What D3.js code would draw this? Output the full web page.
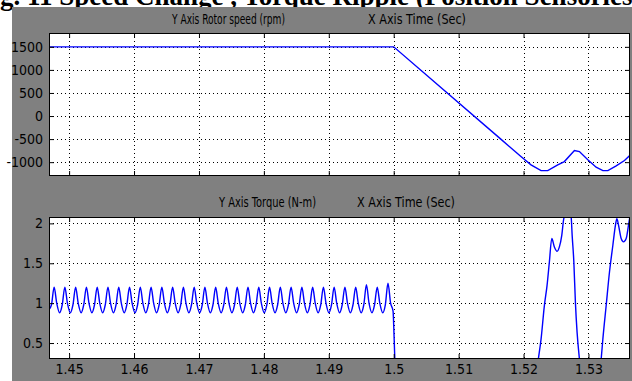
<!DOCTYPE html>
<html>
<head>
<meta charset="utf-8">
<script src="https://cdn.jsdelivr.net/npm/d3@7"></script>
<style>
  html, body { margin: 0; padding: 0; background: #fff; }
  svg { display: block; }
  .tick text { font-family: "Liberation Sans Narrow", "DejaVu Sans Condensed", sans-serif; font-size: 14px; fill: #000; }
  .ptitle { font-family: "Liberation Sans Narrow", "DejaVu Sans Condensed", sans-serif; font-size: 14px; fill: #000; }
</style>
</head>
<body>
<svg id="chart" width="632" height="381"></svg>
<script>
// tick values
const timeTicks = [1.45, 1.46, 1.47, 1.48, 1.49, 1.5, 1.51, 1.52, 1.53];
const speedTicks = [-1000, -500, 0, 500, 1000, 1500];
const torqueTicks = [0.5, 1, 1.5, 2];

// rotor speed (rpm) vs time (s)
const speedTime = [1.4469, 1.5, 1.5165, 1.5196, 1.52115, 1.5227, 1.52373, 1.52527, 1.52629,
    1.52784, 1.52861, 1.5299, 1.53118, 1.53222, 1.53299, 1.53427, 1.53555, 1.53648];
const speedRpm = [1500, 1500, -500, -878, -1059, -1183, -1183, -1059, -987,
    -748, -770, -950, -1109, -1183, -1183, -1080, -965, -841];

// torque (N-m) vs time (s), one ripple cycle per line
const torqueTime = [
    1.4469, 1.44728,
    1.44769, 1.44809, 1.44854, 1.44894,   // 1
    1.44934, 1.44974, 1.45019, 1.45059,
    1.45100, 1.45140, 1.45185, 1.45225,
    1.45266, 1.45306, 1.45351, 1.45391,
    1.45432, 1.45472, 1.45517, 1.45557,   // 5
    1.45598, 1.45638, 1.45683, 1.45723,
    1.45764, 1.45804, 1.45849, 1.45889,
    1.45930, 1.45970, 1.46015, 1.46055,
    1.46096, 1.46136, 1.46181, 1.46221,
    1.46262, 1.46302, 1.46347, 1.46387,   // 10
    1.46428, 1.46468, 1.46513, 1.46553,
    1.46594, 1.46634, 1.46679, 1.46719,
    1.46760, 1.46800, 1.46845, 1.46885,
    1.46926, 1.46966, 1.47011, 1.47051,
    1.47091, 1.47131, 1.47176, 1.47216,   // 15
    1.47257, 1.47297, 1.47342, 1.47382,
    1.47423, 1.47463, 1.47508, 1.47548,
    1.47589, 1.47629, 1.47674, 1.47714,
    1.47755, 1.47795, 1.47840, 1.47880,
    1.47921, 1.47961, 1.48006, 1.48046,   // 20
    1.48087, 1.48127, 1.48172, 1.48212,
    1.48253, 1.48293, 1.48338, 1.48378,
    1.48419, 1.48459, 1.48504, 1.48544,
    1.48585, 1.48625, 1.48670, 1.48710,
    1.48751, 1.48791, 1.48836, 1.48876,   // 25
    1.48917, 1.48957, 1.49002, 1.49042,
    1.49082, 1.49122, 1.49167, 1.49207,
    1.49248, 1.49288, 1.49333, 1.49373,
    1.49414, 1.49454, 1.49499, 1.49539,
    1.49580, 1.49620, 1.49665, 1.49705,   // 30
    1.49746, 1.49786, 1.49831, 1.49871,
    1.49912, 1.49952, 1.49990, 1.50005, 1.50025, 1.5005,
    1.5100, 1.5205,
    1.52228, 1.52270, 1.52321, 1.52362, 1.52398, 1.52435, 1.52475, 1.52517,
    1.52552, 1.52589, 1.52620, 1.52629, 1.5266, 1.52733, 1.52749, 1.52775,
    1.52799, 1.52825, 1.52861, 1.5295, 1.5310,
    1.53196, 1.53222, 1.53273, 1.53324, 1.53376, 1.53416, 1.53438, 1.53463,
    1.53504, 1.53540, 1.53581, 1.53617, 1.53638, 1.5366
];
const torqueNm = [
    0.92, 0.98,
    1.2, 1.0, 0.88, 0.98,   // 1
    1.2, 1.0, 0.88, 0.98,
    1.2, 1.0, 0.88, 0.98,
    1.2, 1.0, 0.88, 0.98,
    1.2, 1.0, 0.88, 0.98,   // 5
    1.2, 1.0, 0.88, 0.98,
    1.2, 1.0, 0.88, 0.98,
    1.2, 1.0, 0.88, 0.98,
    1.2, 1.0, 0.88, 0.98,
    1.2, 1.0, 0.88, 0.98,   // 10
    1.2, 1.0, 0.88, 0.98,
    1.2, 1.0, 0.88, 0.98,
    1.2, 1.0, 0.88, 0.98,
    1.2, 1.0, 0.88, 0.98,
    1.2, 1.0, 0.88, 0.98,   // 15
    1.2, 1.0, 0.88, 0.98,
    1.2, 1.0, 0.88, 0.98,
    1.2, 1.0, 0.88, 0.98,
    1.2, 1.0, 0.88, 0.98,
    1.2, 1.0, 0.88, 0.98,   // 20
    1.2, 1.0, 0.88, 0.98,
    1.2, 1.0, 0.88, 0.98,
    1.2, 1.0, 0.88, 0.98,
    1.2, 1.0, 0.88, 0.98,
    1.2, 1.0, 0.88, 0.98,   // 25
    1.2, 1.0, 0.88, 0.98,
    1.2, 1.0, 0.88, 0.98,
    1.2, 1.0, 0.88, 0.98,
    1.2, 1.0, 0.88, 0.98,
    1.23, 1.0, 0.88, 0.98,  // 30
    1.2, 1.0, 0.88, 0.98,
    1.25, 1.0, 0.9, 0.6, 0.1, -0.6,
    -0.8, -0.8,
    0.3, 0.55, 0.97, 1.22, 1.516, 1.81, 1.705, 1.65,
    1.705, 1.85, 2.06, 2.083, 2.25, 2.083, 1.85, 1.516,
    1.01, 0.634, 0.3, -0.3, -0.3,
    0.3, 0.55, 0.97, 1.39, 1.726, 1.978, 2.06, 1.978,
    1.81, 1.768, 1.81, 1.978, 2.083, 2.2
];

const width = 632;
const height = 381;
const timeDomain = [1.4469, 1.5364];

const svg = d3.select("#chart")
    .attr("width", width)
    .attr("height", height);

svg.append("text")
    .attr("x", -24)
    .attr("y", 5)
    .attr("font-family", "Liberation Serif, Times New Roman, serif")
    .attr("font-weight", "bold")
    .attr("font-size", 27)
    .text("Fig. 11 Speed Change , Torque Ripple (Position Sensorless Control)");

// figure background
svg.append("rect")
    .attr("x", 12)
    .attr("y", 7)
    .attr("width", width - 12)
    .attr("height", height - 7)
    .attr("fill", "#808080");

const drawPanel = (box, yDomain, yTicks, xs, ys, showTimeLabels, id, curve) => {
    const x = d3.scaleLinear().domain(timeDomain).range([box.left, box.right]);
    const y = d3.scaleLinear().domain(yDomain).range([box.bottom, box.top]);

    svg.append("rect")
        .attr("x", box.left)
        .attr("y", box.top)
        .attr("width", box.right - box.left)
        .attr("height", box.bottom - box.top)
        .attr("fill", "#fff");

    // dotted grid
    const grid = svg.append("g")
        .attr("stroke", "#000")
        .attr("stroke-width", 1)
        .attr("stroke-dasharray", "1,3");

    grid.selectAll(".gx")
        .data(timeTicks)
        .enter()
        .append("line")
        .attr("x1", (d) => Math.round(x(d)) + 0.5)
        .attr("x2", (d) => Math.round(x(d)) + 0.5)
        .attr("y1", box.top)
        .attr("y2", box.bottom);

    grid.selectAll(".gy")
        .data(yTicks)
        .enter()
        .append("line")
        .attr("y1", (d) => Math.round(y(d)) + 0.5)
        .attr("y2", (d) => Math.round(y(d)) + 0.5)
        .attr("x1", box.left)
        .attr("x2", box.right);

    svg.append("clipPath")
        .attr("id", id)
        .append("rect")
        .attr("x", box.left)
        .attr("y", box.top)
        .attr("width", box.right - box.left)
        .attr("height", box.bottom - box.top);

    const line = d3.line()
        .curve(curve)
        .x((d, i) => x(xs[i]))
        .y((d, i) => y(ys[i]));

    svg.append("path")
        .datum(xs)
        .attr("clip-path", `url(#${id})`)
        .attr("fill", "none")
        .attr("stroke", "#0000ff")
        .attr("stroke-width", 1.4)
        .attr("d", line);

    // inward ticks on all four sides
    const left = svg.append("g")
        .attr("transform", `translate(${box.left},0)`)
        .call(d3.axisLeft(y).tickValues(yTicks).tickSizeInner(-5).tickSizeOuter(0)
            .tickPadding(6).tickFormat((d) => String(d)));

    const right = svg.append("g")
        .attr("transform", `translate(${box.right},0)`)
        .call(d3.axisRight(y).tickValues(yTicks).tickSizeInner(-5).tickSizeOuter(0).tickFormat(""));

    const bottom = svg.append("g")
        .attr("transform", `translate(0,${box.bottom})`)
        .call(d3.axisBottom(x).tickValues(timeTicks).tickSizeInner(-5).tickSizeOuter(0)
            .tickPadding(5).tickFormat(showTimeLabels ? (d) => String(d) : ""));

    const top = svg.append("g")
        .attr("transform", `translate(0,${box.top})`)
        .call(d3.axisTop(x).tickValues(timeTicks).tickSizeInner(-5).tickSizeOuter(0).tickFormat(""));

    [left, right, bottom, top].forEach((g) => g.select(".domain").remove());

    svg.append("rect")
        .attr("x", box.left + 0.5)
        .attr("y", box.top + 0.5)
        .attr("width", box.right - box.left - 1)
        .attr("height", box.bottom - box.top - 1)
        .attr("fill", "none")
        .attr("stroke", "#000");
};

drawPanel({ left: 49, right: 630, top: 33, bottom: 176 }, [-1300, 1800], speedTicks,
    speedTime, speedRpm, false, "clipSpeed", d3.curveLinear);
drawPanel({ left: 49, right: 630, top: 217, bottom: 359 }, [0.3, 2.08], torqueTicks,
    torqueTime, torqueNm, true, "clipTorque", d3.curveMonotoneX);

// panel titles
const titles = [
    { text: "Y Axis Rotor speed (rpm)", x: 172, y: 24, len: 113 },
    { text: "X Axis Time (Sec)", x: 368, y: 24, len: 98 },
    { text: "Y Axis Torque (N-m)", x: 219, y: 207, len: 97 },
    { text: "X Axis Time (Sec)", x: 357, y: 207, len: 98 },
];
svg.selectAll(".ptitle")
    .data(titles)
    .enter()
    .append("text")
    .attr("class", "ptitle")
    .attr("x", (d) => d.x)
    .attr("y", (d) => d.y)
    .attr("textLength", (d) => d.len)
    .attr("lengthAdjust", "spacingAndGlyphs")
    .text((d) => d.text);
</script>
</body>
</html>
